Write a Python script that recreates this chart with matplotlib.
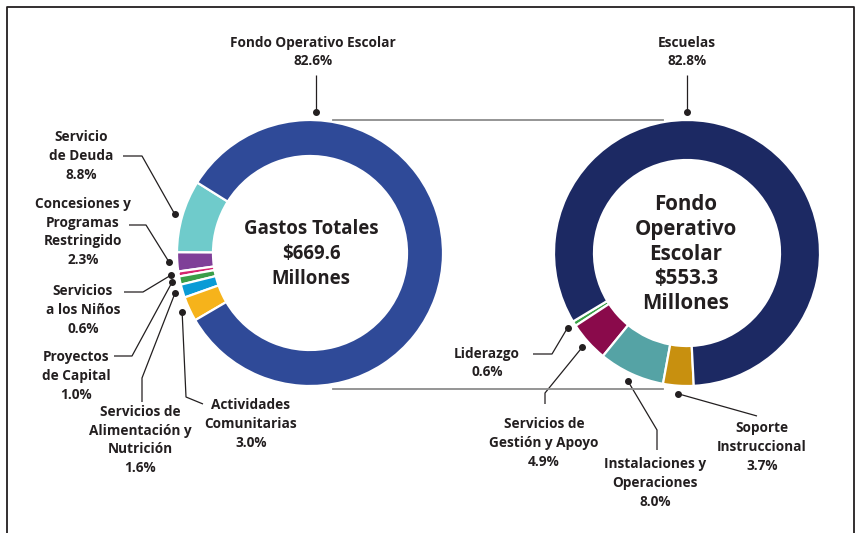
import matplotlib.pyplot as plt
import numpy as np

W, H = 856, 533

# left donut: total spending
left_labels = ["Servicio\nde Deuda", "Concesiones y\nProgramas\nRestringido", "Servicios\na los Niños",
               "Proyectos\nde Capital", "Servicios de\nAlimentación y\nNutrición",
               "Actividades\nComunitarias", "Fondo Operativo Escolar"]
left_values = [8.8, 2.3, 0.6, 1.0, 1.6, 3.0, 82.6]
left_colors = ["#6FCBCB", "#7F3F98", "#D6246E", "#3A9E48", "#0A9BD6", "#F6B31B", "#2F4A98"]
left_center_text = "Gastos Totales\n$669.6\nMillones"

# right donut: school operating fund
right_labels = ["Liderazgo", "Servicios de\nGestión y Apoyo", "Instalaciones y\nOperaciones",
                "Soporte\nInstruccional", "Escuelas"]
right_values = [0.6, 4.9, 8.0, 3.7, 82.8]
right_colors = ["#3AA247", "#8A0A4B", "#55A3A5", "#C8900F", "#1C2963"]
right_center_text = "Fondo\nOperativo\nEscolar\n$553.3\nMillones"

TXT = "#231F20"
FONT = ["Open Sans", "DejaVu Sans"]


def Y(y):
    return H - y


fig = plt.figure(figsize=(W / 100, H / 100), dpi=100)
ax = fig.add_axes([0, 0, 1, 1])


def donut(values, colors, center, radius, width, start):
    wedges, _ = ax.pie(values, colors=colors, startangle=start, counterclock=True,
                       radius=radius, center=(center[0], Y(center[1])),
                       wedgeprops=dict(width=width, edgecolor="white", linewidth=1.6))
    return wedges


def anchor(wedge, ang=None, off=8):
    if ang is None:
        ang = (wedge.theta1 + wedge.theta2) / 2
    cx, cy = wedge.center
    r = wedge.r + off
    return cx + r * np.cos(np.radians(ang)), cy + r * np.sin(np.radians(ang))


lw_ = donut(left_values, left_colors, (310, 253), 133, 36, 148)
rw_ = donut(right_values, right_colors, (687, 253), 133, 40, 211)

# center captions
ax.text(311, Y(254), left_center_text, ha="center", va="center", fontsize=13.4, fontweight="bold",
        color=TXT, family=FONT, linespacing=1.3)
ax.text(686, Y(254), right_center_text, ha="center", va="center", fontsize=14.8, fontweight="bold",
        color=TXT, family=FONT, linespacing=1.24)

# labels: text center, leader path (image coords, from text side), anchor angle override
left_layout = [
    ((81, 156), [(123, 156), (142, 156)], None),
    ((83, 232), [(129, 225), (146, 225)], None),
    ((83, 310), [(124, 292), (143, 292)], None),
    ((76, 376), [(114, 356), (132, 356)], None),
    ((140, 440), [(142, 402), (142, 378)], None),
    ((251, 424), [(203, 404), (186, 397)], None),
    ((313, 52), [(316, 75)], 87.5),
]
right_layout = [
    ((487, 363), [(533, 354), (552, 354)], None),
    ((544, 443), [(545, 404), (545, 393)], None),
    ((655, 483), [(657, 450), (657, 430)], None),
    ((762, 447), [(757, 416)], None),
    ((687, 52), [(687, 75)], 90),
]


def draw_labels(wedges, labels, values, layout):
    for w, lab, val, (tpos, path, ang) in zip(wedges, labels, values, layout):
        ax.text(tpos[0], Y(tpos[1]), f"{lab}\n{val:.1f}%", ha="center", va="center",
                fontsize=9.8, fontweight="bold", color=TXT, family=FONT, linespacing=1.45)
        dx, dy = anchor(w, ang)
        xs = [p[0] for p in path]
        ys = [Y(p[1]) for p in path]
        if ang is not None:
            xs = [dx for _ in xs]
        ax.plot(xs + [dx], ys + [dy], color=TXT, lw=0.9, solid_capstyle="butt")
        ax.plot(dx, dy, "o", color=TXT, ms=4)


draw_labels(lw_, left_labels, left_values, left_layout)
draw_labels(rw_, right_labels, right_values, right_layout)

# connectors between donuts
ax.plot([333, 663], [Y(120), Y(120)], color="#8C8C8C", lw=1.3)
ax.plot([333, 663], [Y(389), Y(389)], color="#8C8C8C", lw=1.3)

# frame
ax.plot([7, 7, 854, 854], [0, Y(7), Y(7), 0], color="#231F20", lw=1.3)

ax.set_xlim(0, W)
ax.set_ylim(0, H)
ax.axis("off")
fig.savefig("out.png", dpi=100)
